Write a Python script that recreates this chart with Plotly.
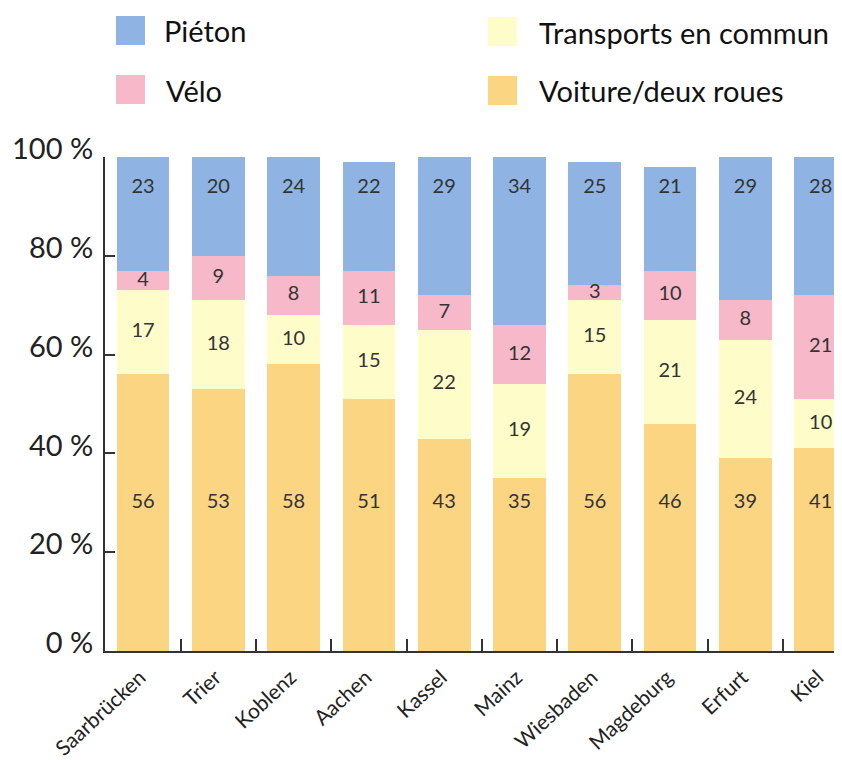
import plotly.graph_objects as go

cities = ["Saarbrücken", "Trier", "Koblenz", "Aachen", "Kassel", "Mainz",
          "Wiesbaden", "Magdeburg", "Erfurt", "Kiel"]
voiture = [56, 53, 58, 51, 43, 35, 56, 46, 39, 41]
transports = [17, 18, 10, 15, 22, 19, 15, 21, 24, 10]
velo = [4, 9, 8, 11, 7, 12, 3, 10, 8, 21]
pieton = [23, 20, 24, 22, 29, 34, 25, 21, 29, 28]
y_ticks = [0, 20, 40, 60, 80, 100]
y_ticktext = ["0 %", "20 %", "40 %", "60 %", "80 %", "100 %"]

series_names = ["Voiture/deux roues", "Transports en commun", "Vélo", "Piéton"]
colors = {"Piéton": "#8fb4e4", "Vélo": "#f7b8c9",
          "Transports en commun": "#fefcc9", "Voiture/deux roues": "#fcd583"}

FONT = "Lato"
TXT = "#262626"

OFF = 8  # page body margin
W, H = 842 - OFF, 760 - OFF
ML, MR, MT = 105 - OFF, 0, 157 - OFF
MB = H - (651 - OFF)
PW, PH = W - ML - MR, H - MT - MB

fig = go.Figure()
values = [voiture, transports, velo, pieton]
for name, vals in zip(series_names, values):
    fig.add_trace(go.Bar(x=cities, y=vals, name=name, marker_color=colors[name],
                         marker_line_width=0, showlegend=False, hoverinfo="skip"))

# labels
base = [0] * len(cities)
for k, vals in enumerate(values):
    ys = []
    for i, v in enumerate(vals):
        if k == 0:
            ys.append(30)          # bottom segment labels at a fixed level
        elif k == 3:
            ys.append(93.8)        # top segment labels near the top
        else:
            ys.append(base[i] + v / 2)
        base[i] += v
    fig.add_trace(go.Scatter(x=cities, y=ys, mode="text", text=[str(v) for v in vals],
                             textposition="middle center",
                             textfont=dict(family=FONT, size=20, color="#333333"),
                             showlegend=False, hoverinfo="skip", cliponaxis=False))


def px_x(p):
    return (p - OFF - ML) / PW


def px_y(p):
    return (H - MB - (p - OFF)) / PH


legend_items = [("Piéton", 116, 16, 162), ("Vélo", 116, 75, 164),
                ("Transports en commun", 488, 17, 537), ("Voiture/deux roues", 488, 76, 537)]
shapes = []
annotations = []
for name, sx, sy, tx in legend_items:
    shapes.append(dict(type="rect", xref="paper", yref="paper",
                       x0=px_x(sx), x1=px_x(sx + 29), y0=px_y(sy + 29), y1=px_y(sy),
                       fillcolor=colors[name], line=dict(width=0)))
    annotations.append(dict(xref="paper", yref="paper", x=px_x(tx), y=px_y(sy + 15),
                            xanchor="left", yanchor="middle", showarrow=False,
                            text=name, font=dict(family=FONT, size=29, color="#111111")))

fig.update_layout(
    width=W, height=H,
    margin=dict(l=ML, r=MR, t=MT, b=MB, autoexpand=False),
    plot_bgcolor="white", paper_bgcolor="white",
    barmode="stack", bargap=0.3,
    showlegend=False,
    shapes=shapes, annotations=annotations,
    font=dict(family=FONT, color=TXT),
)
fig.update_xaxes(
    range=[-0.505, 9.283], showline=True, linecolor="#333333", linewidth=2,
    ticks="inside", tickson="boundaries", ticklen=12, tickwidth=2, tickcolor="#333333",
    tickangle=-43, tickfont=dict(family=FONT, size=21, color="#222222"),
    ticklabelstandoff=4, ticklabelshift=-3,
    showgrid=False, zeroline=False,
)
fig.update_yaxes(
    range=[0, 100], tickmode="array", tickvals=y_ticks, ticktext=y_ticktext,
    showline=True, linecolor="#333333", linewidth=2,
    ticks="inside", ticklen=10, tickwidth=2, tickcolor="#333333",
    tickfont=dict(family=FONT, size=29, color="#222222"), ticklabelstandoff=4,
    ticklabelshift=-8,
    showgrid=False, zeroline=False,
)

fig.write_html("out.html")
